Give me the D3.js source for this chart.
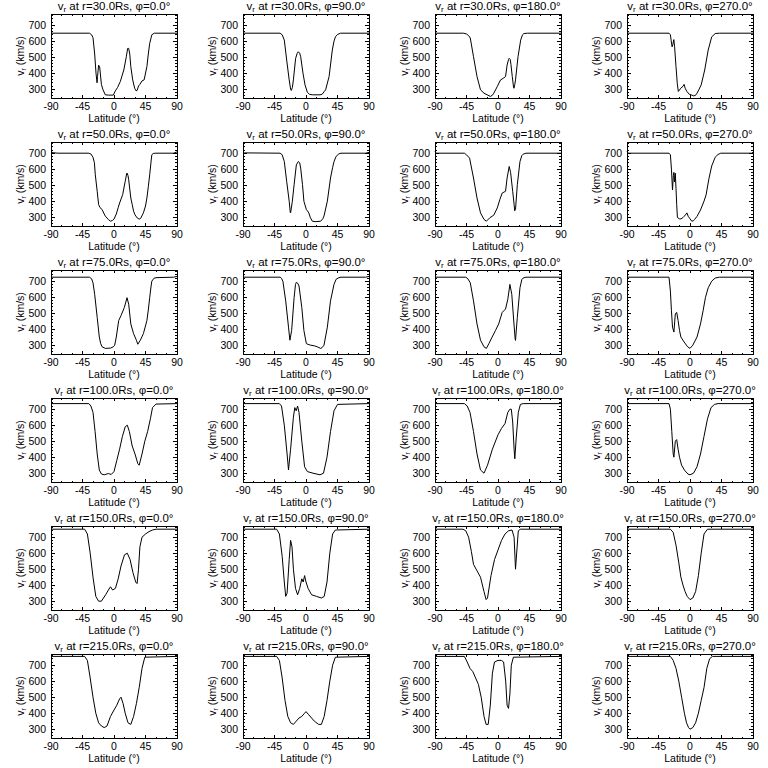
<!DOCTYPE html>
<html><head><meta charset="utf-8">
<script src="https://cdn.jsdelivr.net/npm/d3@7"></script>
<style>body{margin:0;background:#fff}svg{display:block}</style>
</head><body>
<script>
const radii = [30, 50, 75, 100, 150, 215];
const phis = [0, 90, 180, 270];
const xTicks = [-90, -45, 0, 45, 90];
const yTicks = [300, 400, 500, 600, 700];
const xDomain = [-90, 90];
const yDomain = [245, 770];

// [latitude, v_r] pairs per panel
const r30_phi0 = [[-90,650],[-35,650],[-32,640],[-30,622],[-27.6,520],[-25.7,400],[-24.2,340],[-23.5,380],[-22,450],[-20.5,440],[-18,330],[-16,300],[-12.5,265],[-8,263],[-1,263],[2,290],[5,310],[9,348],[14,420],[17.6,503],[19.5,555],[21,555],[22.5,520],[24,441],[26.7,358],[29.5,306],[31.5,290],[33,292],[35,320],[37,330],[40,352],[43,358],[47,441],[49,520],[51,586],[54,640],[57.6,650],[90,650]];
const r30_phi90 = [[-90,650],[-37,650],[-34,640],[-31,607],[-27.6,482],[-24,358],[-22,300],[-21,292],[-19.5,310],[-18,358],[-14.8,493],[-12.5,525],[-11,534],[-9,525],[-7.6,503],[-4.3,400],[-1.4,327],[2,280],[5,268],[9,265],[20,265],[23,268],[26,285],[28,296],[33,379],[37.6,545],[40,600],[42,627],[45,642],[49.5,650],[90,650]];
const r30_phi180 = [[-90,650],[-49,650],[-45,645],[-42,635],[-39.6,620],[-35,503],[-30,379],[-25,296],[-20,275],[-15.6,265],[-11,255],[-8,262],[-6,275],[-1,317],[3.6,358],[7.4,368],[10.8,379],[13,451],[15,485],[16,493],[17.5,485],[18.5,455],[20.4,379],[22,320],[22.8,306],[24,330],[25,358],[28.6,503],[32.4,607],[35,640],[37,648],[42,650],[90,650]];
const r30_phi270 = [[-90,650],[-30,650],[-28,640],[-27,607],[-25.6,565],[-24.5,580],[-23.1,610],[-22,565],[-20,441],[-18.2,337],[-16.7,286],[-15,295],[-13.3,306],[-10,318],[-8.4,330],[-6.9,306],[-4.4,286],[-1,268],[1.5,265],[5.4,258],[8,262],[10,275],[13,300],[16,327],[21,420],[26,545],[31,627],[36,648],[42,650],[90,650]];

const r50_phi0 = [[-90,710],[-87,703],[-80,700],[-36,700],[-33,695],[-30,675],[-28,640],[-26.7,565],[-24,462],[-22,379],[-20,360],[-17,348],[-14,320],[-12.4,307],[-8,285],[-5,275],[-2,280],[0,288],[3.3,320],[6,360],[8,389],[12.4,441],[16,524],[18,570],[18.6,576],[20,560],[21,534],[24,420],[26,380],[28,337],[30,315],[33,296],[36,288],[38,292],[42,327],[45,370],[47,420],[49,490],[51,565],[53,650],[54,690],[56,698],[59,700],[85,700],[90,708]];
const r50_phi90 = [[-90,710],[-88,702],[-37,700],[-34,690],[-31,648],[-27.6,524],[-24,400],[-22.5,330],[-22,327],[-20.5,370],[-19.5,400],[-17,503],[-13.8,627],[-11,648],[-9,640],[-7.6,607],[-5,503],[-3,400],[0.5,348],[2,340],[4,327],[6,300],[9,275],[14,272],[21,275],[24,290],[25.7,307],[30.5,400],[35,545],[38,610],[40,648],[43,680],[47,696],[50,700],[85,700],[90,705]];
const r50_phi180 = [[-90,710],[-88,700],[-48,700],[-45,690],[-40.6,669],[-35,545],[-30,420],[-25,327],[-20,286],[-16.6,275],[-11.8,296],[-6,313],[-1,358],[2.6,410],[6,451],[10.8,462],[13,545],[16,617],[18,580],[21,462],[23,380],[23.8,340],[25,348],[27.6,503],[31.4,648],[34,685],[36,694],[40,700],[90,700]];
const r50_phi270 = [[-90,710],[-88,700],[-30,700],[-28,690],[-26.5,600],[-25,470],[-23.8,560],[-23,580],[-22,520],[-21,575],[-20,480],[-19,380],[-18,298],[-15,290],[-13,289],[-10,298],[-8,307],[-5.5,320],[-4.4,327],[-2.5,305],[0,290],[2.5,275],[5,278],[6.4,285],[10,305],[15,345],[20,400],[23,440],[27,540],[31,620],[36,675],[40,692],[44,700],[88,700],[90,706]];

const r75_phi0 = [[-90,725],[-35,725],[-32,715],[-30,690],[-27.6,618],[-24,474],[-21,351],[-19,310],[-17,290],[-12.4,280],[-5,282],[-1,290],[1,300],[3.3,351],[6.7,454],[10,485],[14.8,536],[18.6,597],[21,556],[24,433],[28,372],[32,331],[34,306],[37.6,331],[42,372],[47,454],[49,520],[51,597],[53,670],[54,700],[57,718],[60,722],[85,725],[90,730]];
const r75_phi90 = [[-90,725],[-37,725],[-35,718],[-33,700],[-29,577],[-25,413],[-23,331],[-20.5,392],[-17,597],[-15,680],[-13.8,693],[-12,688],[-10,670],[-6,536],[-3,392],[0.5,310],[3,305],[6.7,300],[12,296],[16,290],[21,280],[23,285],[25.7,300],[30.5,413],[35,577],[40,680],[43,712],[47,722],[50,725],[85,725],[90,730]];
const r75_phi180 = [[-90,725],[-46,725],[-43,715],[-39.6,690],[-35,577],[-30,433],[-25,331],[-20,290],[-16.6,280],[-13,310],[-8.4,351],[-3.6,392],[1,433],[6,505],[10.8,526],[14,587],[17,680],[19.7,618],[22.8,433],[24.5,340],[25,330],[27.6,474],[31.4,659],[34,710],[36,720],[40,725],[90,725]];
const r75_phi270 = [[-90,725],[-30,725],[-28,638],[-26.5,515],[-25,413],[-23,382],[-21,495],[-19,505],[-17,454],[-15,392],[-13,351],[-8.4,320],[-3.4,290],[0,280],[4,300],[10,351],[15,433],[18.7,515],[22,597],[26,659],[31,700],[36,720],[42,725],[90,725]];

const r100_phi0 = [[-90,735],[-36,735],[-33,720],[-30,680],[-27,560],[-24,420],[-21,320],[-18,295],[-14,290],[-8,298],[-4,292],[0,310],[4,380],[8,450],[12,530],[16,590],[19,600],[22,560],[26,470],[30,420],[34,360],[36,350],[40,420],[44,500],[48,560],[52,640],[55,710],[60,732],[90,735]];
const r100_phi90 = [[-90,735],[-38,735],[-35,720],[-31,600],[-27,420],[-25,320],[-22,450],[-18,650],[-16,710],[-14,690],[-12,720],[-10,680],[-6,500],[-2,340],[2,310],[10,300],[20,290],[25,300],[30,400],[35,560],[40,690],[45,730],[90,735]];
const r100_phi180 = [[-90,735],[-48,735],[-44,720],[-40,680],[-35,560],[-30,420],[-25,320],[-20,300],[-15,350],[-8,450],[0,540],[5,580],[10,610],[14,680],[17,700],[19,700],[21,620],[23,450],[24,390],[26,520],[29,680],[32,730],[36,735],[90,735]];
const r100_phi270 = [[-90,735],[-30,735],[-28,700],[-26,560],[-24,420],[-23,400],[-21,500],[-19,510],[-17,450],[-15,400],[-12,350],[-8,320],[-3,295],[0,290],[5,300],[10,340],[15,420],[20,530],[25,640],[30,710],[35,730],[40,735],[90,735]];

const r150_phi0 = [[-90,750],[-42,750],[-38,720],[-34,600],[-30,450],[-26,330],[-22,300],[-18,300],[-12,340],[-8,370],[-5,390],[-2,370],[2,380],[6,440],[10,520],[15,590],[19,600],[23,560],[27,480],[31,420],[33,410],[35,500],[37,640],[40,700],[45,720],[50,735],[55,745],[60,750],[90,750]];
const r150_phi90 = [[-90,750],[-42,750],[-38,720],[-34,580],[-31,420],[-29,330],[-27,350],[-24,560],[-22,680],[-20,640],[-18,500],[-15,380],[-12,340],[-9,380],[-6,440],[-4,420],[-2,460],[0,420],[3,380],[8,340],[15,330],[22,320],[26,330],[30,420],[34,600],[38,720],[42,745],[90,750]];
const r150_phi180 = [[-90,750],[-50,750],[-46,740],[-42,700],[-38,610],[-35,530],[-30,490],[-25,450],[-20,360],[-17,310],[-15,320],[-10,460],[-5,560],[0,620],[5,680],[10,720],[15,740],[20,745],[23,700],[25,500],[27,620],[29,740],[32,750],[90,750]];
const r150_phi270 = [[-90,750],[-28,750],[-24,730],[-20,650],[-16,540],[-13,450],[-10,400],[-7,360],[-4,330],[0,310],[4,320],[8,360],[12,460],[16,600],[20,720],[25,750],[90,750]];

const r215_phi0 = [[-90,755],[-42,755],[-38,730],[-34,620],[-30,500],[-26,400],[-22,340],[-18,320],[-14,310],[-10,320],[-5,380],[0,420],[4,450],[8,490],[10,500],[13,460],[16,400],[20,340],[24,330],[28,380],[32,460],[36,560],[40,680],[44,750],[90,755]];
const r215_phi90 = [[-90,755],[-42,755],[-38,730],[-34,620],[-30,480],[-26,380],[-22,340],[-18,330],[-14,350],[-10,370],[-6,380],[-2,400],[0,410],[4,390],[8,370],[12,350],[18,330],[22,330],[26,380],[30,480],[34,600],[38,700],[42,750],[90,755]];
const r215_phi180 = [[-90,755],[-48,755],[-44,720],[-40,680],[-36,660],[-32,620],[-28,580],[-24,500],[-20,380],[-17,330],[-14,330],[-11,450],[-8,650],[-5,720],[0,730],[5,730],[8,720],[11,600],[13,450],[15,430],[17,520],[19,700],[22,750],[90,755]];
const r215_phi270 = [[-90,755],[-28,755],[-24,730],[-20,680],[-16,600],[-12,500],[-8,400],[-5,340],[-2,310],[0,300],[4,310],[8,340],[12,400],[16,480],[20,560],[24,680],[28,740],[32,755],[90,755]];

const panelData = [
  [r30_phi0, r30_phi90, r30_phi180, r30_phi270],
  [r50_phi0, r50_phi90, r50_phi180, r50_phi270],
  [r75_phi0, r75_phi90, r75_phi180, r75_phi270],
  [r100_phi0, r100_phi90, r100_phi180, r100_phi270],
  [r150_phi0, r150_phi90, r150_phi180, r150_phi270],
  [r215_phi0, r215_phi90, r215_phi180, r215_phi270]
];

const W = 768, H = 768;
const pw = 126, ph = 84;
const font = "'Liberation Sans', Arial, sans-serif";

const svg = d3.select("body").append("svg").attr("width", W).attr("height", H)
  .style("background", "#fff");

const x = d3.scaleLinear().domain(xDomain).range([0, pw]);
const y = d3.scaleLinear().domain(yDomain).range([ph, 0]);
const line = d3.line().x(d => x(d[0])).y(d => y(d[1]));

const xMinor = d3.range(-90, 91, 15);
const yMinor = d3.range(260, 770, 20);

radii.forEach((r, ri) => {
  phis.forEach((p, ci) => {
    const g = svg.append("g").attr("transform", `translate(${51 + 192 * ci},${14 + 128 * ri})`);
    g.append("rect").attr("width", pw).attr("height", ph)
      .attr("fill", "none").attr("stroke", "#000").attr("stroke-width", 1)
      .attr("shape-rendering", "crispEdges");
    const tk = g.append("g").attr("stroke", "#000").attr("stroke-width", 1).attr("shape-rendering", "crispEdges");
    xMinor.forEach(v => {
      const L = xTicks.includes(v) ? 3 : 1.5;
      tk.append("line").attr("x1", x(v)).attr("x2", x(v)).attr("y1", ph).attr("y2", ph - L);
      tk.append("line").attr("x1", x(v)).attr("x2", x(v)).attr("y1", 0).attr("y2", L);
    });
    yMinor.forEach(v => {
      const L = yTicks.includes(v) ? 4 : 2;
      tk.append("line").attr("y1", y(v)).attr("y2", y(v)).attr("x1", 0).attr("x2", L);
      tk.append("line").attr("y1", y(v)).attr("y2", y(v)).attr("x1", pw).attr("x2", pw - L);
    });
    xTicks.forEach(v => {
      g.append("text").attr("x", x(v)).attr("y", ph + 12).attr("text-anchor", "middle")
        .attr("font-family", font).attr("font-size", 10.5).text(v);
    });
    yTicks.forEach(v => {
      g.append("text").attr("x", -5).attr("y", y(v) + 3.5).attr("text-anchor", "end")
        .attr("font-family", font).attr("font-size", 10.5).text(v);
    });
    const xt = g.append("text").attr("x", pw / 2).attr("y", ph + 24).attr("text-anchor", "middle")
      .attr("font-family", font).attr("font-size", 10.5);
    xt.append("tspan").text("Latitude (°)");
    const yt = g.append("text").attr("transform", `translate(-27,${ph / 2}) rotate(-90)`)
      .attr("text-anchor", "middle").attr("font-family", font).attr("font-size", 10.5);
    yt.append("tspan").text("v");
    yt.append("tspan").attr("font-size", 7).attr("dy", 2).text("r");
    yt.append("tspan").attr("dy", -2).text(" (km/s)");
    const tt = g.append("text").attr("x", pw / 2).attr("y", -4).attr("text-anchor", "middle")
      .attr("font-family", font).attr("font-size", 11.5);
    tt.append("tspan").text("v");
    tt.append("tspan").attr("font-size", 8).attr("dy", 2).text("r");
    tt.append("tspan").attr("dy", -2).text(` at r=${r.toFixed(1)}Rs, φ=${p.toFixed(1)}°`);
    g.append("path").datum(panelData[ri][ci]).attr("d", line)
      .attr("fill", "none").attr("stroke", "#000").attr("stroke-width", 1);
  });
});
</script>
</body></html>
